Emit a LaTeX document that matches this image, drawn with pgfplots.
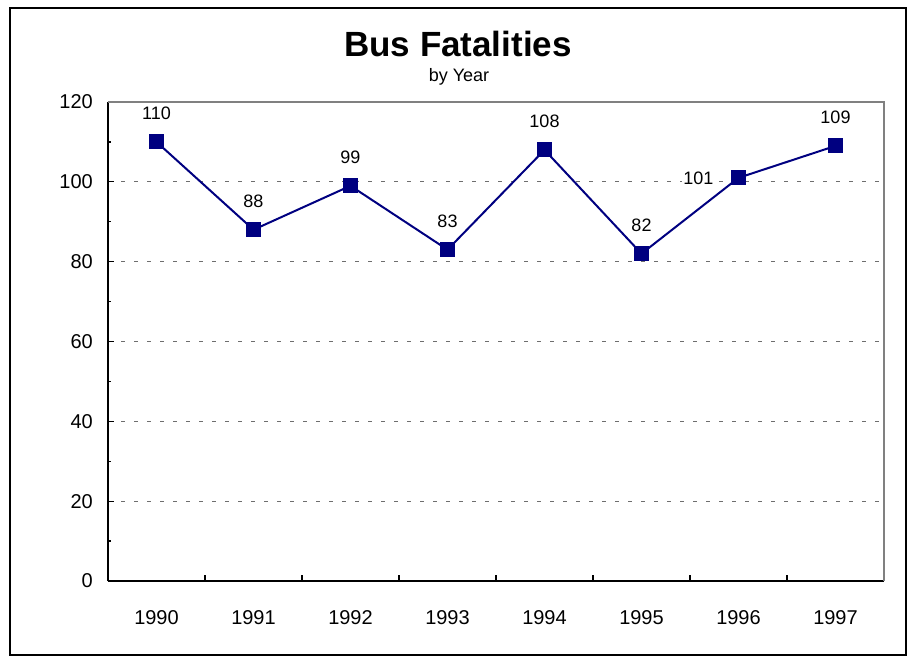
\documentclass[border=0pt]{standalone}
\usepackage{pgfplots}
\pgfplotsset{compat=1.18}
\usepackage{fontspec}
\setmainfont{Liberation Sans}
\definecolor{navy}{RGB}{0,0,128}
\definecolor{gridgray}{RGB}{110,110,110}
\begin{document}
\begin{tikzpicture}
\path[use as bounding box] (0bp,0bp) rectangle (913bp,659bp);
\draw[black, line width=2bp] (10bp,4bp) rectangle (906bp,651bp);
\node[anchor=base, inner sep=0pt, font=\fontsize{35bp}{40bp}\selectfont\bfseries] at (458bp,602bp) {Bus Fatalities};
\node[anchor=base, inner sep=0pt, font=\fontsize{18bp}{21bp}\selectfont] at (459bp,577bp) {by Year};
\begin{axis}[
  at={(108bp,78bp)}, anchor=south west,
  scale only axis, width=776bp, height=479bp,
  xmin=0, xmax=8, ymin=0, ymax=120,
  axis lines=left, axis line style={-, black, line width=1.8bp},
  xtick={0,1,2,3,4,5,6,7,8},
  x tick label as interval,
  xticklabels={1990,1991,1992,1993,1994,1995,1996,1997},
  ytick={0,20,40,60,80,100,120},
  minor y tick num=1,
  tick align=inside,
  major tick length=6bp, minor tick length=3bp,
  tick style={black, line width=1.3bp},
  ymajorgrids,
  grid style={gridgray, dash pattern=on 4bp off 9bp, line width=1bp},
  tick label style={font=\fontsize{20bp}{23bp}\selectfont},
  /pgf/number format/assume math mode=true,
  yticklabel style={anchor=east, inner sep=0pt, xshift=-15bp},
  xticklabel style={anchor=base, inner sep=0pt, yshift=-43bp},
  clip=false,
]
\draw[gray, line width=1.6bp] (rel axis cs:0,1) -- (rel axis cs:1,1) -- (rel axis cs:1,0);
\addplot[navy, line width=2bp, mark=square*, mark size=6.5bp, mark options={solid, fill=navy},
  nodes near coords,
  every node near coord/.append style={black, anchor=base, inner sep=0pt, yshift=22bp, font=\fontsize{18bp}{21bp}\selectfont},
  nodes near coords align={center}]
  coordinates {(0.5,110) (1.5,88) (2.5,99) (3.5,83) (4.5,108) (5.5,82)};
\addplot[navy, line width=2bp, mark=square*, mark size=6.5bp, mark options={solid, fill=navy}]
  coordinates {(5.5,82) (6.5,101) (7.5,109)};
\addplot[draw=none, mark=none,
  nodes near coords,
  every node near coord/.append style={black, anchor=base, inner sep=0pt, yshift=22bp, font=\fontsize{18bp}{21bp}\selectfont}]
  coordinates {(7.5,109)};
\addplot[draw=none, mark=none,
  nodes near coords,
  every node near coord/.append style={black, fill=white, anchor=east, inner sep=1bp, xshift=-24bp, font=\fontsize{18bp}{21bp}\selectfont}]
  coordinates {(6.5,101)};
\end{axis}
\end{tikzpicture}
\end{document}
